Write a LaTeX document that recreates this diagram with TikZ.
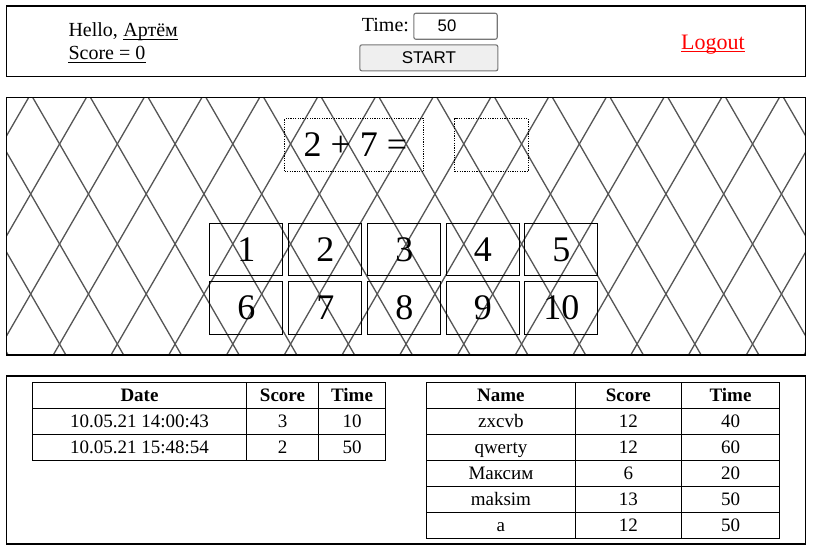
\documentclass[tikz,border=0pt]{standalone}
\usepackage{fontspec}
\setmainfont{Liberation Serif}
\setsansfont{Liberation Sans}
\definecolor{patgray}{HTML}{555555}
\definecolor{ctlgray}{HTML}{767676}
\definecolor{btnfill}{HTML}{EFEFEF}
\begin{document}
\begin{tikzpicture}[x=1pt,y=-1pt,
  panel/.style={draw=black, line width=1.2pt},
  patline/.style={draw=patgray, line width=1.3pt},
  txt/.style={inner sep=0pt, anchor=base west},
  ctext/.style={inner sep=0pt, anchor=base},
  uline/.style={line width=1.2pt},
  ctl/.style={draw=ctlgray, line width=1.1pt, rounded corners=2pt, anchor=north west, inner sep=0pt},
  dotbox/.style={draw=black, line width=1.1pt, dash pattern=on 1.2pt off 1.2pt, anchor=north west, inner sep=0pt, minimum height=52.7pt},
  numbtn/.style={draw=black, line width=1.1pt, anchor=north west, inner sep=0pt, minimum width=73pt, minimum height=52.5pt, font=\fontsize{36}{40}\selectfont},
  tbl/.style={draw=black, line width=1pt},
  tfont/.style={font=\fontsize{19}{22}\selectfont},
  thfont/.style={font=\fontsize{19}{22}\selectfont\bfseries},
  big/.style={font=\fontsize{20}{24}\selectfont}
]
\fill[white] (0,0) rectangle (817,555);
\useasboundingbox (0,0) rectangle (817,555);

% ---------- header panel ----------
\draw[panel] (6.3,6) rectangle (805.3,76.3);
\node[txt, big] (hello) at (68.3,36.7) {Hello,};
\node[txt, big] (artem) at ([xshift=5pt]hello.base east) {Артём};
\draw[uline] ([yshift=-2.6pt]artem.base west) -- ([yshift=-2.6pt]artem.base east);
\node[txt, big] (score) at (68.3,59.5) {Score = 0};
\draw[uline] ([yshift=-2.6pt]score.base west) -- ([yshift=-2.6pt]score.base east);

\node[txt, big] (timelbl) at (361.7,31.7) {Time:};
\node[ctl, minimum width=83.4pt, minimum height=26pt] (timebox) at (413.3,12.7) {};
\node[ctext, font=\sffamily\fontsize{16.7}{20}\selectfont] (timeval) at (447,31) {50};
\node[ctl, fill=btnfill, minimum width=138pt, minimum height=26pt, font=\sffamily\fontsize{17}{20}\selectfont] (startbtn) at (359.3,44.3) {START};

\node[txt, text=red, font=\fontsize{22}{26}\selectfont] (logout) at (681,49) {Logout};
\draw[uline, red] ([yshift=-2.7pt]logout.base west) -- ([yshift=-2.7pt]logout.base east);

% ---------- game panel ----------
\begin{scope}
\clip (6.3,97.3) rectangle (805.3,355);
\foreach \k in {-3,...,16}{
  \pgfmathsetmacro{\xo}{30.7+57.75*\k}
  \draw[patline] (\xo-83.14,50) -- (\xo+118.94,400);
  \draw[patline] (\xo+83.14,50) -- (\xo-118.94,400);
}
\end{scope}
\draw[panel] (6.3,97.3) rectangle (805.3,355);

\node[dotbox, minimum width=139pt] (eqbox) at (284.3,118.3) {};
\node[txt, font=\fontsize{36}{40}\selectfont] (eqtext) at (303.3,156.7) {2 + 7 =};
\node[dotbox, minimum width=73.4pt] (ansbox) at (454.3,118.3) {};

\foreach \i/\x in {1/209.3,2/288.3,3/367.3,4/445.7,5/524.3}{
  \node[numbtn] (n\i) at (\x,222.7) {\i};
}
\foreach \i/\x in {6/209.3,7/288.3,8/367.3,9/445.7,10/524.3}{
  \node[numbtn] (n\i) at (\x,281.3) {\i};
}

% ---------- tables panel ----------
\draw[panel] (6.3,376) rectangle (805.3,544);

% left table
\draw[tbl] (32.3,382.3) rectangle (385.7,460.3);
\foreach \y in {408.3,434.3} \draw[tbl] (32.3,\y) -- (385.7,\y);
\foreach \x in {246.7,318.3} \draw[tbl] (\x,382.3) -- (\x,460.3);
\node[ctext, thfont] (lh1) at (139.5,401.9) {Date};
\node[ctext, thfont] (lh2) at (282.5,401.9) {Score};
\node[ctext, thfont] (lh3) at (352,401.9) {Time};
\node[ctext, tfont] (l11) at (139.5,427.9) {10.05.21 14:00:43};
\node[ctext, tfont] (l12) at (282.5,427.9) {3};
\node[ctext, tfont] (l13) at (352,427.9) {10};
\node[ctext, tfont] (l21) at (139.5,453.9) {10.05.21 15:48:54};
\node[ctext, tfont] (l22) at (282.5,453.9) {2};
\node[ctext, tfont] (l23) at (352,453.9) {50};

% right table
\draw[tbl] (426.7,382.3) rectangle (779.3,538.3);
\foreach \y in {408.3,434.3,460.3,486.3,512.3} \draw[tbl] (426.7,\y) -- (779.3,\y);
\foreach \x in {575,681.7} \draw[tbl] (\x,382.3) -- (\x,538.3);
\node[ctext, thfont] (rh1) at (500.9,401.9) {Name};
\node[ctext, thfont] (rh2) at (628.4,401.9) {Score};
\node[ctext, thfont] (rh3) at (730.5,401.9) {Time};
\foreach \r/\a/\b/\c [count=\j] in {1/zxcvb/12/40, 2/qwerty/12/60, 3/Максим/6/20, 4/maksim/13/50, 5/a/12/50}{
  \pgfmathsetmacro{\yb}{401.9+26*\r}
  \node[ctext, tfont] (r\j a) at (500.9,\yb) {\a};
  \node[ctext, tfont] (r\j b) at (628.4,\yb) {\b};
  \node[ctext, tfont] (r\j c) at (730.5,\yb) {\c};
}
\end{tikzpicture}
\end{document}
